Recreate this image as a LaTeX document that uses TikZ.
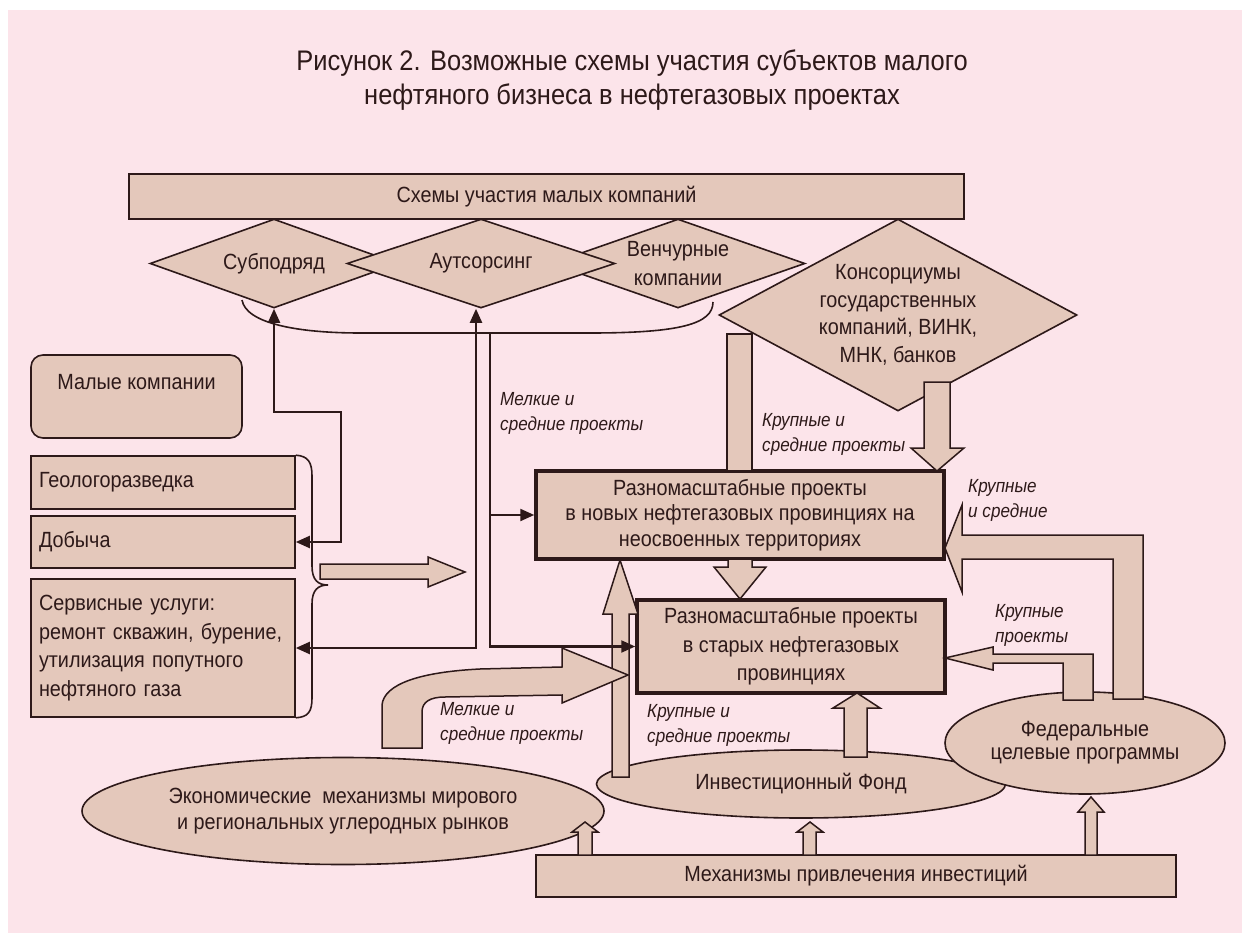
\documentclass[tikz,border=0pt]{standalone}
\usepackage{fontspec}
\setmainfont{Liberation Sans}[FakeStretch=0.9]
\usetikzlibrary{shapes.geometric,arrows.meta}
\definecolor{bgpink}{RGB}{252,228,234}
\definecolor{tanfill}{RGB}{228,200,187}
\definecolor{ink}{RGB}{45,25,25}
\newcommand\mainsz{\fontsize{22}{27}\selectfont}
\newcommand\lblsz{\fontsize{19}{25}\selectfont\itshape}
\newcommand\titlesz{\fontsize{28.3}{34}\selectfont}
\begin{document}
\begin{tikzpicture}[x=1pt,y=-1pt,
 every node/.style={text=ink},
 box/.style={draw=ink, fill=tanfill, line width=1.6pt, inner sep=0pt, align=center, font=\mainsz},
 bbox/.style={box, line width=3.5pt},
 lbox/.style={box, align=left, text width=248pt, inner xsep=8pt, inner ysep=0pt},
 dia/.style={box, shape=diamond},
 ell/.style={box, shape=ellipse},
 barrow/.style={draw=ink, fill=tanfill, line width=1.5pt, line join=miter},
 conn/.style={draw=ink, line width=2.2pt},
 arrtip/.style={arrows={-Triangle[length=14pt,width=12pt]}},
 arrboth/.style={arrows={Triangle[length=14pt,width=12pt]-Triangle[length=14pt,width=12pt]}},
 lbl/.style={font=\lblsz, align=left, inner sep=0pt, anchor=west}
]
\useasboundingbox (0,0) rectangle (1242,933);
\fill[white] (0,0) rectangle (1242,933);
\fill[bgpink] (8,10) rectangle (1242,933);

% title
\node[font=\titlesz, align=center] (title) at (632,80) {Рисунок 2. Возможные схемы участия субъектов малого\\нефтяного бизнеса в нефтегазовых проектах};

% top box and diamonds
\node[box, minimum width=835pt, minimum height=45pt] (schemes) at (546.5,196.5) {Схемы участия малых компаний};
\node[dia, minimum width=248pt, minimum height=89pt, shape aspect=2.8] (sub) at (274,263.5) {Субподряд};
\node[dia, minimum width=254pt, minimum height=89pt, shape aspect=2.8, font=\fontsize{22}{29}\selectfont] (ven) at (678,263.5) {Венчурные\\компании};
\node[dia, minimum width=268pt, minimum height=89pt, shape aspect=2.8] (aut) at (481,263.5) {Аутсорсинг};
\node[dia, minimum width=358pt, minimum height=192pt, shape aspect=1.86, font=\fontsize{22}{27.5}\selectfont] (kons) at (898,315) {Консорциумы\\государственных\\компаний, ВИНК,\\МНК, банков};

% arc under diamonds
\draw[ink, line width=1.6pt] (242,300) .. controls (246,324) and (300,333) .. (360,333) -- (590,333) .. controls (680,333) and (713,324) .. (713,302);
\coordinate (b0) at (490,333);

% left column
\node[box, rounded corners=12pt, minimum width=211pt, minimum height=83pt, text height=16pt, text depth=30pt] (mal) at (136.5,396.5) {Малые компании};
\node[lbox, minimum height=53pt] (geo) at (163,482.5) {\mbox{Геологоразведка}};
\node[lbox, minimum height=52pt] (dob) at (163,542) {\mbox{Добыча}};
\node[lbox, minimum height=138pt, font=\fontsize{22}{28.5}\selectfont] (serv) at (163,648) {\mbox{Сервисные услуги:}\\\mbox{ремонт скважин, бурение,}\\\mbox{утилизация попутного}\\\mbox{нефтяного газа}};
\draw[ink, line width=1.6pt] (geo.north east) .. controls (308,456) and (312,462) .. (312,476) -- (312,566) .. controls (312,580) and (318,585) .. (328,585) .. controls (318,585) and (312,590) .. (312,604) -- (312,698) .. controls (312,712) and (308,717) .. (serv.south east);

% project boxes
\node[bbox, minimum width=408pt, minimum height=88pt, font=\fontsize{22}{25.5}\selectfont] (newp) at (740,515) {Разномасштабные проекты\\в новых нефтегазовых провинциях на\\неосвоенных территориях};
\node[bbox, minimum width=308pt, minimum height=93pt, font=\fontsize{22}{28.5}\selectfont] (oldp) at (791,646.5) {Разномасштабные проекты\\в старых нефтегазовых\\провинциях};

% ellipses and bottom box
\node[ell, minimum width=522pt, minimum height=107pt, font=\fontsize{22}{26}\selectfont] (econ) at (343,811) {Экономические\ \ механизмы мирового\\и региональных углеродных рынков};
\node[ell, minimum width=409pt, minimum height=68pt] (inv) at (801,784) {Инвестиционный Фонд};
\node[ell, minimum width=280pt, minimum height=102pt, font=\fontsize{22}{23}\selectfont] (fed) at (1085,743) {Федеральные\\целевые программы};
\node[box, minimum width=640pt, minimum height=42pt] (mech) at (856,876) {Механизмы привлечения инвестиций};

% block arrows
\draw[barrow] (320,564) -- (428,564) -- (428,557) -- (465,572) -- (428,587) -- (428,579) -- (320,579) -- cycle;
\draw[barrow] (728,559) -- (728,567) -- (714,567) -- (740,599) -- (766,567) -- (752,567) -- (752,559) -- cycle;
\draw[barrow] (727,334) rectangle (752,471);
\draw[barrow] (924,382) -- (950,382) -- (950,448) -- (964,448) -- (937,471) -- (911,448) -- (924,448) -- cycle;
\draw[barrow] (1113,699) -- (1113,559) -- (962,559) -- (962,592) -- (945,548) -- (962,505) -- (962,535) -- (1143,535) -- (1143,699) -- cycle;
\draw[barrow] (1063,700) -- (1063,663) -- (993,663) -- (993,670) -- (945,658) -- (993,647) -- (993,654) -- (1093,654) -- (1093,700) -- cycle;
\draw[barrow] (612,777) -- (612,614) -- (603,614) -- (620,560) -- (638,614) -- (629,614) -- (629,777) -- cycle;
\draw[barrow] (382,748) -- (382,705) .. controls (384,684) and (420,672) .. (480,669) -- (562,667) -- (562,648) -- (628,675) -- (562,703) -- (562,695) -- (445,697) .. controls (430,697) and (422,702) .. (422,712) -- (422,748) -- cycle;
\draw[barrow] (844,757) -- (844,708) -- (833,708) -- (857,693) -- (880,708) -- (867,708) -- (867,757) -- cycle;
\draw[barrow] (578,855) -- (578,832) -- (572,832) -- (585,822) -- (598,832) -- (592,832) -- (592,855) -- cycle;
\draw[barrow] (803,855) -- (803,832) -- (797,832) -- (810,822) -- (823,832) -- (816,832) -- (816,855) -- cycle;
\draw[barrow] (1085,855) -- (1085,812) -- (1078,812) -- (1091,797) -- (1104,812) -- (1097,812) -- (1097,855) -- cycle;

% thin connectors
\coordinate (k1) at (341,412);
\draw[conn, arrboth] (sub.south) |- (k1) |- (dob.east);
\draw[conn, arrboth] ([xshift=-5pt]aut.south) |- (serv.east);
\draw[conn, arrtip] (b0) |- (oldp.west);
\draw[conn, arrtip] (b0 |- newp.west) -- (newp.west);

% labels
\node[lbl] (l1) at (500,413) {Мелкие и\\средние проекты};
\node[lbl] (l2) at (762,434.5) {Крупные и\\средние проекты};
\node[lbl] (l3) at (968,500.5) {Крупные\\и средние};
\node[lbl] (l4) at (995,625) {Крупные\\проекты};
\node[lbl] (l5) at (440,723.5) {Мелкие и\\средние проекты};
\node[lbl] (l6) at (647,725) {Крупные и\\средние проекты};
\end{tikzpicture}
\end{document}
